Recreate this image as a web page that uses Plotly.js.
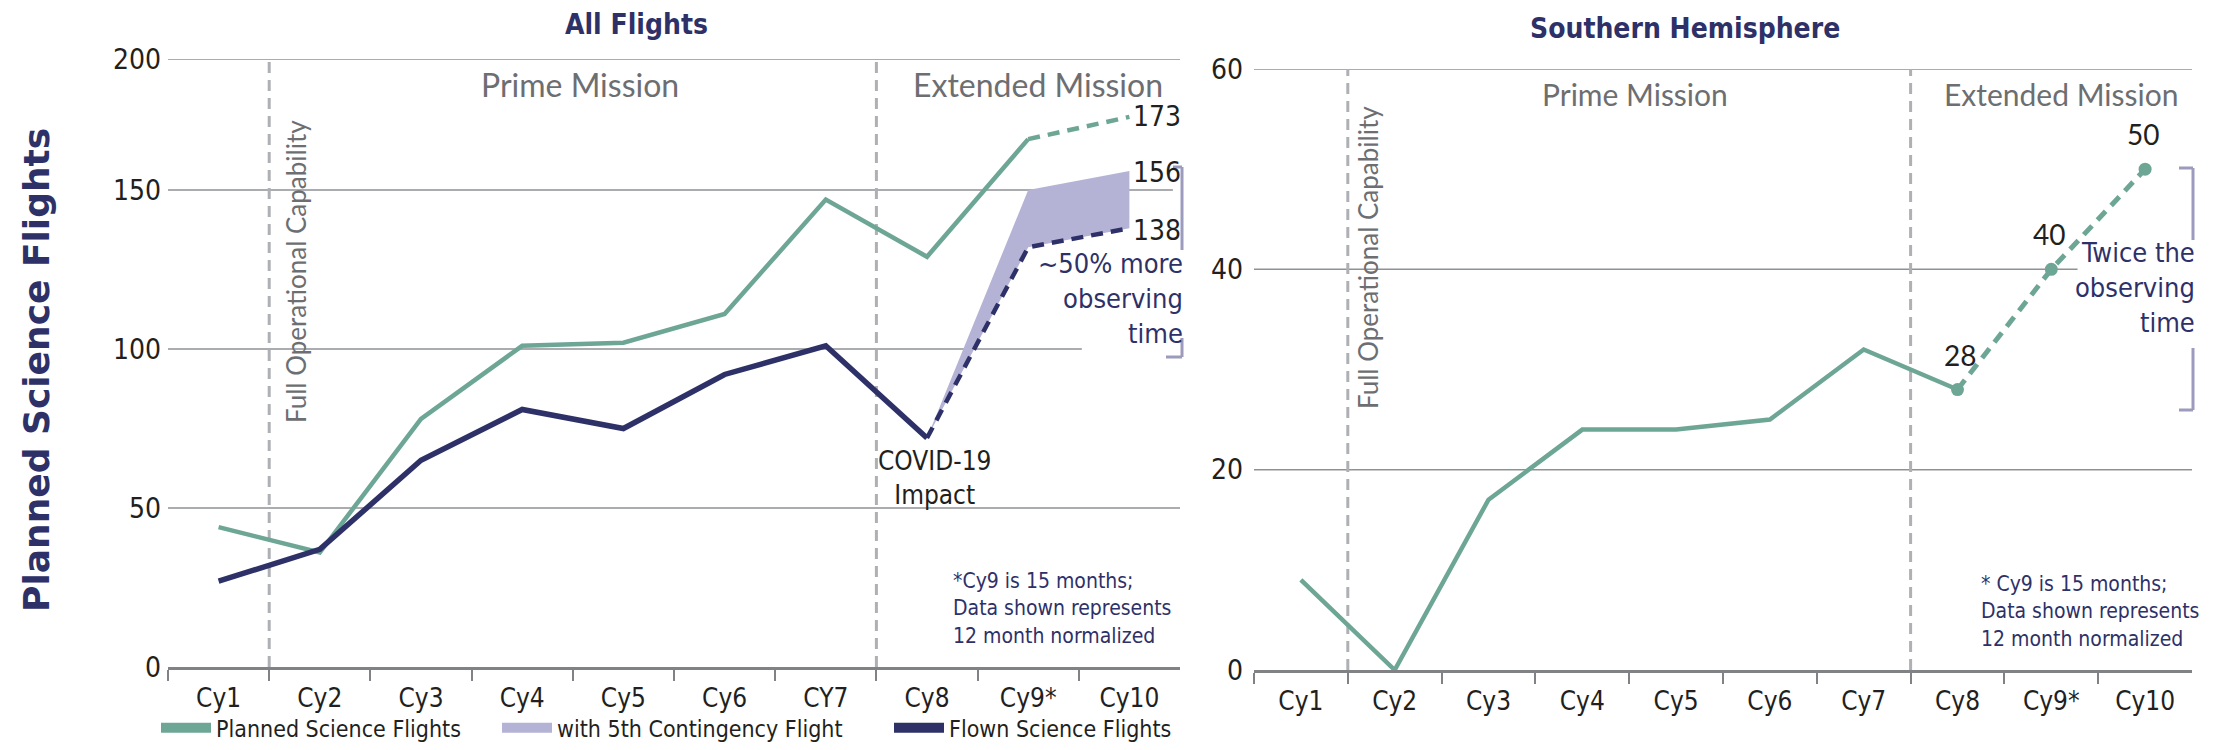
<!DOCTYPE html>
<html>
<head>
<meta charset="utf-8">
<script src="https://cdn.plot.ly/plotly-3.0.1.min.js"></script>
<style>html,body{margin:0;padding:0;background:#fff;}#chart{width:2215px;height:750px;}</style>
</head>
<body>
<div id="chart"></div>
<script>
// ---------- DATA ----------
const categoriesAll   = ['Cy1','Cy2','Cy3','Cy4','Cy5','Cy6','CY7','Cy8','Cy9*','Cy10'];
const categoriesSouth = ['Cy1','Cy2','Cy3','Cy4','Cy5','Cy6','Cy7','Cy8','Cy9*','Cy10'];

// All Flights
const plannedAll        = [44, 36, 78, 101, 102, 111, 147, 129, 166];   // Cy1..Cy9 (solid)
const plannedAllExt     = [166, 173];                                   // Cy9..Cy10 (dashed)
const flownAll          = [27, 37, 65, 81, 75, 92, 101, 72];            // Cy1..Cy8 (solid)
const flownAllExt       = [72, 132, 138];                               // Cy8..Cy10 (dashed)
const contingencyUpper  = [72, 150, 156];                               // Cy8..Cy10 (with 5th contingency flight)

// Southern Hemisphere
const plannedSouth      = [9, 0, 17, 24, 24, 25, 32, 28];               // Cy1..Cy8 (solid)
const plannedSouthExt   = [28, 40, 50];                                 // Cy8..Cy10 (dashed)

// Axis ticks
const allTickPos    = [0, 50, 100, 150, 191.2];
const allTickText   = ['0', '50', '100', '150', '200'];
const southTickPos  = [0, 20, 40, 60];
const southTickText = ['0', '20', '40', '60'];

const legendNames = ['Planned Science Flights', 'with 5th Contingency Flight', 'Flown Science Flights'];

// ---------- STYLE ----------
const GREEN = '#6ea696', NAVY = '#2e3168', PURPLE = '#b4b3d6', BRACKET = '#9c9bbd';
const GRAY_TXT = '#6d6e71', GRID = '#8f9194', DASHV = '#aeb0b4', AXIS = '#808285', INK = '#231f20';
const COND = '"Liberation Sans Narrow", "DejaVu Sans Condensed", Arial, sans-serif';
const REG = 'Lato, "Open Sans", sans-serif';
const DASH = '12px,8px';

const traces = [
  // --- All Flights ---
  {x: categoriesAll.slice(0, plannedAll.length), y: plannedAll, xaxis:'x', yaxis:'y', mode:'lines',
   line:{color:GREEN, width:4.5}, showlegend:false, hoverinfo:'skip'},
  {x: categoriesAll.slice(8, 10), y: plannedAllExt, xaxis:'x', yaxis:'y', mode:'lines',
   line:{color:GREEN, width:4.5, dash:DASH}, showlegend:false, hoverinfo:'skip'},
  {x: categoriesAll.slice(7, 10), y: flownAllExt, xaxis:'x', yaxis:'y', mode:'lines',
   line:{color:PURPLE, width:0}, showlegend:false, hoverinfo:'skip'},
  {x: categoriesAll.slice(7, 10), y: contingencyUpper, xaxis:'x', yaxis:'y', mode:'lines',
   line:{color:PURPLE, width:0}, fill:'tonexty', fillcolor:PURPLE, showlegend:false, hoverinfo:'skip'},
  {x: categoriesAll.slice(0, flownAll.length), y: flownAll, xaxis:'x', yaxis:'y', mode:'lines',
   line:{color:NAVY, width:5.5}, showlegend:false, hoverinfo:'skip'},
  {x: categoriesAll.slice(7, 10), y: flownAllExt, xaxis:'x', yaxis:'y', mode:'lines',
   line:{color:NAVY, width:4.5, dash:DASH}, showlegend:false, hoverinfo:'skip'},

  // --- Southern Hemisphere ---
  {x: categoriesSouth.slice(0, plannedSouth.length), y: plannedSouth, xaxis:'x2', yaxis:'y2', mode:'lines',
   line:{color:GREEN, width:4.5}, showlegend:false, hoverinfo:'skip'},
  {x: categoriesSouth.slice(7, 10), y: plannedSouthExt, xaxis:'x2', yaxis:'y2', mode:'lines+markers',
   line:{color:GREEN, width:5, dash:DASH}, marker:{color:GREEN, size:13}, showlegend:false, hoverinfo:'skip'},

  // --- legend entries ---
  {x:[null], y:[null], xaxis:'x', yaxis:'y', mode:'lines', name:legendNames[0], legend:'legend',
   line:{color:GREEN, width:10}},
  {x:[null], y:[null], xaxis:'x', yaxis:'y', mode:'lines', name:legendNames[1], legend:'legend2',
   line:{color:PURPLE, width:10}},
  {x:[null], y:[null], xaxis:'x', yaxis:'y', mode:'lines', name:legendNames[2], legend:'legend3',
   line:{color:NAVY, width:10}}
];

// ---------- LAYOUT ----------
const W = 2215, H = 750;
const px = v => v / W, py = v => 1 - v / H;

function gridShape(xa, ya, y, x1) {
  return {type:'line', xref:xa, yref:ya, x0:-0.5, x1:x1, y0:y, y1:y, layer:'below',
          line:{color:GRID, width:1.5}};
}
function vdash(xa, ya, x, top) {
  return {type:'line', xref:xa, yref:ya, x0:x, x1:x, y0:0, y1:top, layer:'below',
          line:{color:DASHV, width:3, dash:'11px,7px'}};
}
function pline(x0, y0, x1, y1) {
  return {type:'line', xref:'paper', yref:'paper', x0:px(x0), x1:px(x1), y0:py(y0), y1:py(y1),
          line:{color:BRACKET, width:3}};
}

const shapes = [
  gridShape('x','y', allTickPos[1], 9.5),
  gridShape('x','y', allTickPos[2], 8.53),
  gridShape('x','y', allTickPos[3], 9.43),
  gridShape('x','y', allTickPos[4], 9.5),
  gridShape('x2','y2', southTickPos[1], 9.5),
  gridShape('x2','y2', southTickPos[2], 8.28),
  gridShape('x2','y2', southTickPos[3], 9.5),
  vdash('x','y', 0.5, allTickPos[4]),
  vdash('x','y', 6.5, allTickPos[4]),
  vdash('x2','y2', 0.5, southTickPos[3]),
  vdash('x2','y2', 6.5, southTickPos[3]),
  // brackets left
  pline(1173, 167, 1182, 167), pline(1182, 167, 1182, 250),
  pline(1182, 338, 1182, 357), pline(1166, 357, 1182, 357),
  // brackets right
  pline(2179, 168, 2193, 168), pline(2193, 168, 2193, 240),
  pline(2193, 348, 2193, 410), pline(2179, 410, 2193, 410)
];

// text placed at pixel positions on the page (paper coordinates)
function ptxt(x, y, text, font, xa, extra) {
  return Object.assign({showarrow:false, xref:'paper', yref:'paper', x:px(x), y:py(y), text:text,
    font:font, xanchor:xa || 'center', yanchor:'middle', align:xa === 'right' ? 'right' : (xa === 'left' ? 'left' : 'center')}, extra || {});
}
// value label tied to a data point
function vlab(xa, ya, cat, val, font, xanchor, yshift, xshift) {
  return {showarrow:false, xref:xa, yref:ya, x:cat, y:val, text:String(val), font:font,
    xanchor:xanchor, yanchor:'middle', yshift:yshift || 0, xshift:xshift || 0};
}

const fTitle = {family:COND, size:28, color:NAVY};
const fMission = {family:REG, size:32, color:GRAY_TXT};
const fFOC = {family:REG, size:26, color:GRAY_TXT};
const fValC = {family:COND, size:28, color:INK};
const fValR = {family:REG, size:28, color:INK};
const fNote = {family:COND, size:27, color:NAVY};
const fFoot = {family:COND, size:21, color:NAVY};

const annotations = [
  ptxt(636, 24, '<b>All Flights</b>', fTitle),
  ptxt(1685, 29, '<b>Southern Hemisphere</b>', fTitle),
  ptxt(36, 370, '<b>Planned Science Flights</b>', {family:'"DejaVu Sans", sans-serif', size:36, color:NAVY}, 'center', {textangle:-90}),

  // left panel
  ptxt(580, 85, 'Prime Mission', fMission),
  ptxt(1038, 85, 'Extended Mission', fMission),
  ptxt(296, 272, 'Full Operational Capability', fFOC, 'center', {textangle:-90}),
  vlab('x','y', 'Cy10', plannedAllExt[1], fValC, 'left', 0, 2),
  vlab('x','y', 'Cy10', contingencyUpper[2], fValC, 'left', -2, 2),
  vlab('x','y', 'Cy10', flownAllExt[2], fValC, 'left', -2, 2),
  ptxt(1185, 298, '~50% more<br>observing<br>time', fNote, 'right'),
  ptxt(934, 478, 'COVID-19<br>Impact', {family:COND, size:26, color:INK}),
  ptxt(951, 608, '*Cy9 is 15 months;<br>Data shown represents<br>12 month normalized', fFoot, 'left'),

  // right panel
  ptxt(1635, 94, 'Prime Mission', {family:REG, size:30, color:GRAY_TXT}),
  ptxt(2061, 94, 'Extended Mission', {family:REG, size:30, color:GRAY_TXT}),
  ptxt(1368, 258, 'Full Operational Capability', fFOC, 'center', {textangle:-90}),
  vlab('x2','y2', 'Cy8', plannedSouthExt[0], fValR, 'center', 35, 2),
  vlab('x2','y2', 'Cy9*', plannedSouthExt[1], fValR, 'center', 35, -2),
  vlab('x2','y2', 'Cy10', plannedSouthExt[2], fValR, 'center', 35, -2),
  ptxt(2197, 287, 'Twice the<br>observing<br>time', fNote, 'right'),
  ptxt(1979, 611, '* Cy9 is 15 months;<br>Data shown represents<br>12 month normalized', fFoot, 'left')
];

const xBase = {
  type:'category', range:[-0.5, 9.5], showline:true, linecolor:AXIS, linewidth:3,
  ticks:'outside', tickson:'boundaries', ticklen:11, tickwidth:2, tickcolor:AXIS,
  showgrid:false, zeroline:false, tickfont:{family:COND, size:26, color:INK}, fixedrange:true,
  ticklabelstandoff:6, automargin:false
};
const yBase = {
  showgrid:false, zeroline:false, showline:false, ticks:'', tickfont:{family:COND, size:28, color:INK},
  ticklabelstandoff:6, fixedrange:true, automargin:false
};

const legendBase = {orientation:'h', xanchor:'left', yanchor:'bottom', bgcolor:'rgba(0,0,0,0)',
  font:{family:COND, size:23, color:INK}, itemwidth:50, tracegroupgap:0};

const layout = {
  width:W, height:H, margin:{l:0, r:0, t:0, b:0},
  paper_bgcolor:'#fff', plot_bgcolor:'#fff', showlegend:true, hovermode:false,
  xaxis: Object.assign({}, xBase, {domain:[px(168), px(1180)], anchor:'y', categoryarray:categoriesAll, categoryorder:'array'}),
  yaxis: Object.assign({}, yBase, {domain:[py(667), py(59)], anchor:'x', range:[0, allTickPos[4]],
         tickvals:allTickPos, ticktext:allTickText}),
  xaxis2: Object.assign({}, xBase, {domain:[px(1254), px(2192)], anchor:'y2', categoryarray:categoriesSouth, categoryorder:'array'}),
  yaxis2: Object.assign({}, yBase, {domain:[py(670), py(69)], anchor:'x2', range:[0, 60],
         tickvals:southTickPos, ticktext:southTickText, ticklabelstandoff:10}),
  legend:  Object.assign({}, legendBase, {x:px(156), y:0.001}),
  legend2: Object.assign({}, legendBase, {x:px(497), y:0.001}),
  legend3: Object.assign({}, legendBase, {x:px(889), y:0.001}),
  shapes: shapes,
  annotations: annotations
};

Plotly.newPlot('chart', traces, layout, {staticPlot:true, displayModeBar:false});
</script>
</body>
</html>
